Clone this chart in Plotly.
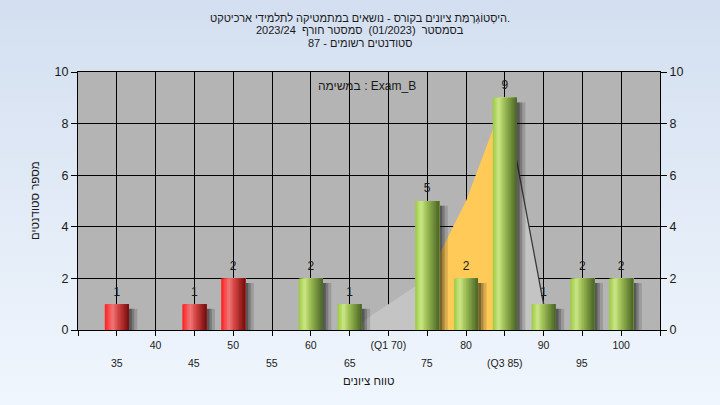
import plotly.graph_objects as go
import urllib.parse

# ---------------- data ----------------
scores = [35, 45, 50, 60, 65, 75, 80, 85, 90, 95, 100]
counts = [1, 1, 2, 2, 1, 5, 2, 9, 1, 2, 2]
pass_mark = 55

area_x = [65, 70, 75, 80, 85, 90]
area_y = [0, 1, 2, 5, 9, 1]
band_from, band_to = 75, 85   # orange band

tick_row1 = {40: "40", 50: "50", 60: "60", 70: "(Q1 70)", 80: "80", 90: "90", 100: "100"}
tick_row2 = {35: "35", 45: "45", 55: "55", 65: "65", 75: "75", 85: "(Q3 85)", 95: "95"}

title_lines = [
    "היסְטוֹגְרָמַּת ציונים בקורס - נושאים במתמטיקה לתלמידי ארכיטקט.",
    "בסמסטר\u00a0\u00a0(01/2023)\u00a0\u00a0סמסטר חורף\u00a0\u00a02023/24",
    "סטודנטים רשומים - 87",
]
task_label = "במשימה : Exam_B"
x_title = "טווח ציונים"
y_title = "מספר סטודנטים"

# ---------------- layout constants ----------------
W, H = 720, 405
ML, MR, MT, MB = 78, 60, 72, 75
PW, PH = W - ML - MR, H - MT - MB
FONT = "Liberation Sans, Arial, sans-serif"
XMIN, XMAX = 30, 105
BAR_W = 3.1
N_SLICES = 16


def hex2rgb(h):
    h = h.lstrip("#")
    return tuple(int(h[i:i + 2], 16) for i in (0, 2, 4))


def grad(stops, t):
    for (t0, c0), (t1, c1) in zip(stops, stops[1:]):
        if t0 <= t <= t1:
            f = (t - t0) / (t1 - t0) if t1 > t0 else 0
            a, b = hex2rgb(c0), hex2rgb(c1)
            return "rgb(%d,%d,%d)" % tuple(round(a[i] + (b[i] - a[i]) * f) for i in range(3))
    return stops[-1][1]


green_stops = [(0, "#9acb3e"), (0.25, "#cde68a"), (0.45, "#a2c457"), (1.0, "#4a6426")]
red_stops = [(0, "#ff1e1e"), (0.33, "#f07878"), (0.55, "#d44444"), (1.0, "#740c0c")]

fig = go.Figure()

# area series (main subplot, behind bars)
def seg(lo, hi):
    xs = [x for x in area_x if lo <= x <= hi]
    ys = [y for x, y in zip(area_x, area_y) if lo <= x <= hi]
    return xs, ys

xs, ys = seg(area_x[0], band_from)
fig.add_trace(go.Scatter(x=xs, y=ys, mode="lines", line=dict(width=0), fill="tozeroy",
                         fillcolor="#c4c4c4", hoverinfo="skip", showlegend=False))
xs, ys = seg(band_from, band_to)
fig.add_trace(go.Scatter(x=xs, y=ys, mode="lines", line=dict(width=0), fill="tozeroy",
                         fillcolor="#ffca58", hoverinfo="skip", showlegend=False))
xs, ys = seg(band_to, area_x[-1])
fig.add_trace(go.Scatter(x=xs, y=ys, mode="lines", line=dict(width=1.3, color="#3a3a3a"), fill="tozeroy",
                         fillcolor="#c4c4c4", hoverinfo="skip", showlegend=False))

# shadows (overlay subplot)
shadow_y = [c - 0.18 for c in counts]
for dx, extra, alpha in [(0.6, 0.5, 0.16), (0.5, 0.2, 0.24), (0.38, 0.0, 0.32)]:
    fig.add_trace(go.Bar(x=scores, y=shadow_y, width=BAR_W + extra, offset=-BAR_W / 2 + dx,
                         marker=dict(color="rgba(20,20,20,%.2f)" % alpha, line=dict(width=0)),
                         yaxis="y2", hoverinfo="skip", showlegend=False))

# gradient bars: overlapping slices, each running to the bar's right edge
for i in range(N_SLICES):
    t = (i + 0.5) / N_SLICES
    cols = [grad(red_stops, t) if s < pass_mark else grad(green_stops, t) for s in scores]
    start = i * BAR_W / N_SLICES
    fig.add_trace(go.Bar(x=scores, y=counts, width=BAR_W - start,
                         offset=-BAR_W / 2 + start,
                         marker=dict(color=cols, line=dict(width=0)),
                         yaxis="y2", hoverinfo="skip", showlegend=False))

# value labels
fig.add_trace(go.Scatter(x=scores, y=[c + 0.22 for c in counts], mode="text", text=[str(c) for c in counts],
                         textposition="top center", textfont=dict(size=12, color="#1a1a1a", family=FONT),
                         yaxis="y2", hoverinfo="skip", showlegend=False, cliponaxis=False))

ticks = list(range(XMIN, XMAX + 1, 5))
fig.update_layout(
    width=W, height=H,
    margin=dict(l=ML, r=MR, t=MT, b=MB, pad=0),
    paper_bgcolor="#e4ecf7",
    plot_bgcolor="rgba(0,0,0,0)",
    barmode="overlay",
    showlegend=False,
    hovermode=False,
    font=dict(family=FONT, color="#1a1a1a"),
    xaxis=dict(range=[XMIN, XMAX], tickvals=ticks,
               ticktext=[tick_row1.get(v, "") for v in ticks],
               ticks="outside", ticklen=5, tickcolor="#000", tickwidth=1,
               showgrid=True, gridcolor="#000", gridwidth=1,
               showline=True, linecolor="#000", linewidth=1, mirror=True,
               zeroline=False, tickfont=dict(size=10.5, color="#1a1a1a"), fixedrange=True),
    yaxis=dict(range=[0, 10], tickvals=list(range(0, 11, 2)),
               ticks="outside", ticklen=6, tickcolor="#000",
               showgrid=True, gridcolor="#000", gridwidth=1,
               showline=True, linecolor="#000", linewidth=1, zeroline=False,
               tickfont=dict(size=12.5, color="#1a1a1a"), fixedrange=True),
    yaxis2=dict(range=[0, 10], tickvals=list(range(0, 11, 2)), overlaying="y", side="right",
                ticks="outside", ticklen=6, tickcolor="#000", showgrid=False,
                showline=True, linecolor="#000", linewidth=1, zeroline=False,
                tickfont=dict(size=12.5, color="#1a1a1a"), fixedrange=True),
)

# background gradient image covering the full figure
svg = ("<svg xmlns='http://www.w3.org/2000/svg' width='720' height='405' preserveAspectRatio='none'>"
       "<defs><linearGradient id='g' x1='0' y1='0' x2='0' y2='1'>"
       "<stop offset='0' stop-color='#d3dff0'/><stop offset='1' stop-color='#f0f6fd'/>"
       "</linearGradient></defs><rect width='720' height='405' fill='url(#g)'/></svg>")
src = "data:image/svg+xml;charset=utf-8," + urllib.parse.quote(svg)
fig.add_layout_image(dict(source=src, xref="paper", yref="paper",
                          x=-ML / PW, y=1 + MT / PH, sizex=W / PW, sizey=H / PH,
                          xanchor="left", yanchor="top", sizing="stretch", layer="below"))
fig.add_shape(type="rect", xref="paper", yref="paper", x0=0, x1=1, y0=0, y1=1,
              fillcolor="#b4b4b4", line=dict(width=0), layer="below")

# second row of x tick labels
for v, t in tick_row2.items():
    fig.add_annotation(x=v, xref="x", y=-(363 - 330) / PH, yref="paper", text=t, showarrow=False,
                       xanchor="center", yanchor="middle", font=dict(size=10.5, color="#1a1a1a"))

# axis titles
fig.add_annotation(x=0.5, xref="paper", y=-(381 - 330) / PH, yref="paper", text=x_title,
                   showarrow=False, yanchor="middle", font=dict(size=11.5, color="#1a1a1a"))
fig.add_annotation(x=-(ML - 35) / PW, xref="paper", y=0.5, yref="paper", text=y_title,
                   textangle=-90, showarrow=False, xanchor="center", yanchor="middle",
                   font=dict(size=11.5, color="#1a1a1a"))

# title lines
for line, yc in zip(title_lines, [17.5, 30, 42.5]):
    fig.add_annotation(x=(360 - ML) / PW, xref="paper", y=1 + (MT - yc) / PH, yref="paper",
                       text=line, showarrow=False, xanchor="center", yanchor="middle",
                       font=dict(size=11, color="#1a1a1a"))

# task annotation
fig.add_annotation(x=(367 - ML) / PW, xref="paper", y=(330 - 86) / PH, yref="paper",
                   text=task_label, showarrow=False, xanchor="center", yanchor="middle",
                   font=dict(size=12, color="#1a1a1a"))

fig.write_html("out.html", config={"displayModeBar": False, "staticPlot": True},
               post_script="document.body.style.margin='0';document.body.style.padding='0';")
